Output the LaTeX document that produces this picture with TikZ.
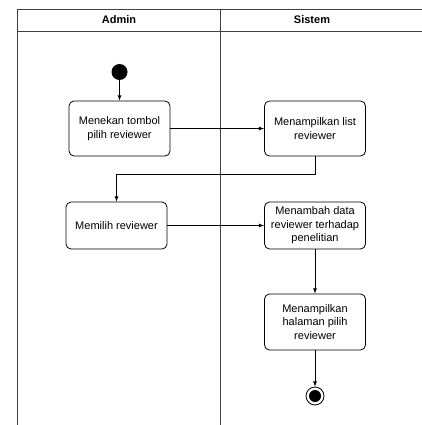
\documentclass[tikz,border=0pt]{standalone}
\usepackage{fontspec}
\setmainfont{Liberation Sans}
\begin{document}
\begin{tikzpicture}[x=1pt,y=-1pt,line width=0.8pt,
	act/.style={draw, rounded corners=5pt, minimum width=101pt, align=center, inner sep=2pt, font=\fontsize{11}{13.5}\selectfont},
	lane/.style={font=\fontsize{11}{13}\selectfont\bfseries},
	flow/.style={-latex}]
		\useasboundingbox (0,0) rectangle (422,425);
		% swimlanes
		\draw[black!75] (17.5,425) -- (17.5,9) -- (422,9);
		\draw[black!75] (17.5,31) -- (422,31);
		\draw[black!75] (220,9) -- (220,425);
		\node[lane] (admin) at (119,20) {Admin};
		\node[lane] (sistem) at (312,20) {Sistem};
		% activities
		\node[circle, fill=black, minimum size=16pt, inner sep=0pt] (start) at (119.5,72) {};
		\node[act, minimum height=55pt] (tombol) at (119.5,128.5) {Menekan tombol\\pilih reviewer};
		\node[act, minimum height=55pt] (list) at (315,128.5) {Menampilkan list\\reviewer};
		\node[act, minimum height=47pt] (pilih) at (116.5,225.5) {Memilih reviewer};
		\node[act, minimum height=47pt] (tambah) at (315,225.5) {Menambah data\\reviewer terhadap\\penelitian};
		\node[act, minimum height=56pt] (halaman) at (315,322) {Menampilkan\\halaman pilih\\reviewer};
		\node[circle, draw, minimum size=18pt, inner sep=0pt] (end) at (315,396) {};
		\fill (end.center) circle (6);
		% flows
		\draw[flow] (start) -- (tombol);
		\draw[flow] (tombol) -- (list);
		\draw[flow] (list.south) -- ++(0,18) -| (pilih.north);
		\draw[flow] (pilih) -- (tambah);
		\draw[flow] (tambah) -- (halaman);
		\draw[flow] (halaman) -- (end);
	\end{tikzpicture}
\end{document}
